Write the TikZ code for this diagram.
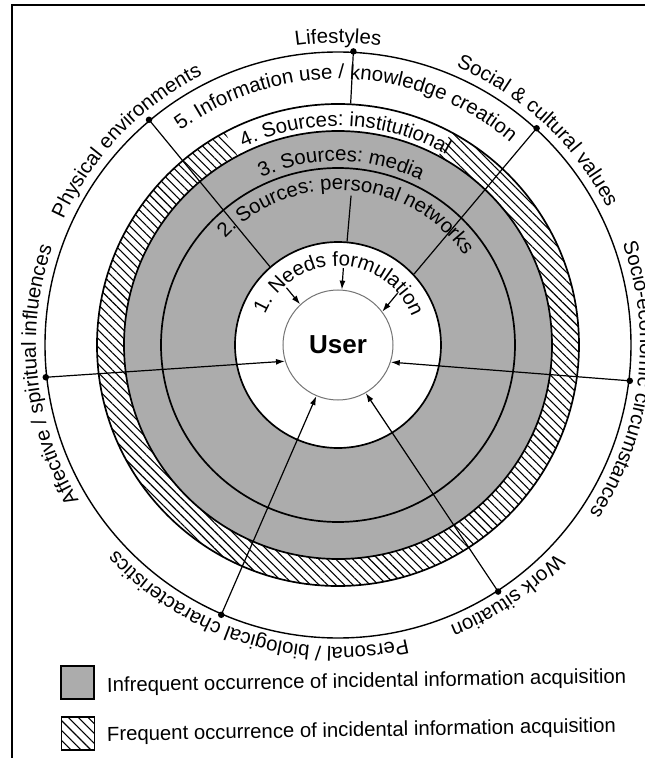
\documentclass[tikz,border=0pt]{standalone}
\usepackage{fontspec}
\setmainfont{Liberation Sans}
\usetikzlibrary{decorations.text, patterns.meta, arrows.meta}
\definecolor{ringgray}{RGB}{172,172,172}
\definecolor{usergray}{RGB}{115,115,115}
\newcommand\lblfont{\fontsize{20.4}{20}\selectfont}
% text set along a clockwise arc: centre angle, baseline radius, half span, text
\newcommand\ringlabel[4]{%
  \pgfmathsetmacro\rlstart{#1+#3}%
  \pgfmathsetmacro\rlend{#1-#3}%
  \path[decorate, decoration={text along path, text align=center, text={|\lblfont|#4}}]
    (\rlstart:#2) arc[start angle=\rlstart, end angle=\rlend, radius=#2];
}
\begin{document}
\begin{tikzpicture}[x=1pt, y=1pt,
  ringc/.style={circle, draw, inner sep=0pt, line width=1.7pt},
  dotnode/.style={circle, fill=black, inner sep=0pt, minimum size=6.5pt},
  spoke/.style={line width=1.2pt},
  spokearrow/.style={line width=1.2pt, -{Latex[length=9pt, width=6pt]}},
  hatch/.style={pattern={Lines[angle=-45, distance=6pt, line width=1.1pt]}},
  legtext/.style={anchor=base west, rotate=1, font=\fontsize{20.3}{22}\selectfont, inner sep=0pt},
  ]
\useasboundingbox (-338,-413) rectangle (307,345);

% frame
\draw[line width=2.7pt] (-326,-413) -- (-326,340) -- (307,340);

% shaded rings 2 and 3
\fill[ringgray, even odd rule] (0,0) circle[radius=214] (0,0) circle[radius=103];
% hatched ring 4, left open under its label
\fill[hatch] (118:241) arc[start angle=118, end angle=422, radius=241]
  -- (422:214) arc[start angle=422, end angle=118, radius=214] -- cycle;

% ring boundaries
\node[ringc, line width=1.4pt, minimum size=586pt] (c5) at (0,0) {};
\node[ringc, minimum size=482pt] (c4) at (0,0) {};
\node[ringc, minimum size=428pt] (c3) at (0,0) {};
\node[ringc, minimum size=354pt] (c2) at (0,0) {};
\node[ringc, minimum size=206pt] (c1) at (0,0) {};
\node[circle, draw=usergray, line width=1pt, minimum size=110pt, inner sep=0pt,
      font=\bfseries\fontsize{26}{26}\selectfont] (user) at (0,0) {User};

% ring labels
\ringlabel{88}{266}{55}{5. Information use / knowledge creation}
\ringlabel{88}{219}{40}{4. Sources: institutional}
\ringlabel{89}{184}{40}{3. Sources: media}
\ringlabel{86}{155}{65}{2. Sources: personal networks}
\ringlabel{89}{79}{85}{1. Needs formulation}

% outer labels
\ringlabel{90}{302}{30}{Lifestyles}
\ringlabel{136}{302}{40}{Physical environments}
\ringlabel{47}{302}{40}{Social {\&} cultural values}
\ringlabel{-7}{302}{45}{Socio-economic circumstances}
\ringlabel{-56}{302}{30}{Work situation}
\ringlabel{-107}{302}{45}{Personal / biological characteristics}
\ringlabel{186}{302}{45}{Affective / spiritual influences}

% context points on the outer ring
\node[dotnode] (dLife)  at (87:294) {};
\node[dotnode] (dPhys)  at (130:294) {};
\node[dotnode] (dSoc)   at (47.5:294) {};
\node[dotnode] (dAff)   at (186.3:294) {};
\node[dotnode] (dSocio) at (-7:294) {};
\node[dotnode] (dPers)  at (246.6:294) {};
\node[dotnode] (dWork)  at (-57:294) {};

% spokes
\coordinate (lifeIn) at (85:150);
\coordinate (needL) at (132:77);
\coordinate (needT) at (86:77);
\coordinate (needR) at (41:79);
\draw[spoke] (dLife.center) -- (c4.87);
\draw[spoke] (lifeIn) -- (c1.85);
\draw[spoke] (dPhys.center) -- (c1.131);
\draw[spoke] (dSoc.center) -- (c1.43);
\draw[spokearrow] (dAff.center) -- (user.197);
\draw[spokearrow] (dSocio.center) -- (user.342);
\draw[spokearrow] (dPers.center) -- (user.247);
\draw[spokearrow] (dWork.center) -- (user.300);
\draw[spokearrow] (needL) -- (user.133);
\draw[spokearrow] (needT) -- (user.86);
\draw[spokearrow] (needR) -- (user.37);

% legend
\node[draw, fill=ringgray, line width=1.4pt, minimum size=33pt, inner sep=0pt] (legGray) at (-260.5,-337.5) {};
\node[draw, line width=1.4pt, minimum size=33pt, inner sep=0pt,
      pattern={Lines[angle=-45, distance=7pt, line width=1.1pt]}] (legHatch) at (-260,-388.5) {};
\node[legtext] (legInf) at (-231,-347) {Infrequent occurrence of incidental information acquisition};
\node[legtext] (legFreq) at (-231,-396) {Frequent occurrence of incidental information acquisition};
\end{tikzpicture}
\end{document}
